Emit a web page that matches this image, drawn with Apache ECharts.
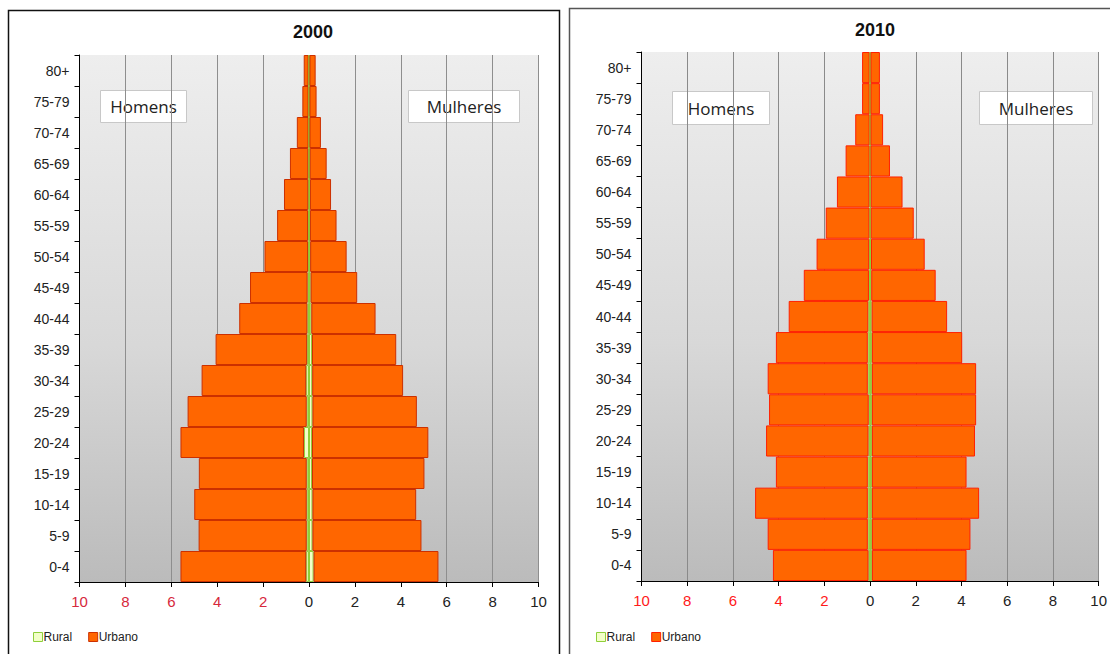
<!DOCTYPE html>
<html>
<head>
<meta charset="utf-8">
<script src="https://cdn.jsdelivr.net/npm/echarts@6/dist/echarts.min.js"></script>
<style>
  html, body { margin: 0; padding: 0; background: #ffffff; }
  #chart { width: 1110px; height: 654px; }
</style>
</head>
<body>
<div id="chart"></div>
<script>
// Age groups, youngest at the bottom of the pyramid
const ageGroups = ['0-4', '5-9', '10-14', '15-19', '20-24', '25-29', '30-34', '35-39',
  '40-44', '45-49', '50-54', '55-59', '60-64', '65-69', '70-74', '75-79', '80+'];

// Share of population (%), census 2000
const ruralMen2000   = [0.12, 0.10, 0.10, 0.10, 0.22, 0.10, 0.12, 0.08, 0.07, 0.06, 0.04, 0.04, 0.03, 0.03, 0.02, 0.02, 0.02];
const urbanMen2000   = [5.48, 4.71, 4.90, 4.70, 5.38, 5.19, 4.56, 3.99, 2.97, 2.51, 1.90, 1.35, 1.06, 0.80, 0.51, 0.27, 0.21];
const ruralWomen2000 = [0.20, 0.15, 0.15, 0.13, 0.13, 0.15, 0.14, 0.13, 0.10, 0.07, 0.05, 0.04, 0.04, 0.03, 0.02, 0.02, 0.02];
const urbanWomen2000 = [5.44, 4.75, 4.52, 4.90, 5.07, 4.55, 3.96, 3.67, 2.80, 2.03, 1.59, 1.16, 0.92, 0.74, 0.50, 0.31, 0.27];

// Share of population (%), census 2010
const ruralMen2010   = [0.07, 0.10, 0.10, 0.10, 0.07, 0.06, 0.10, 0.10, 0.08, 0.05, 0.04, 0.03, 0.03, 0.02, 0.02, 0.02, 0.02];
const urbanMen2010   = [4.18, 4.38, 4.93, 4.02, 4.48, 4.36, 4.38, 4.02, 3.48, 2.85, 2.30, 1.91, 1.42, 1.05, 0.63, 0.33, 0.33];
const ruralWomen2010 = [0.08, 0.08, 0.08, 0.08, 0.08, 0.08, 0.08, 0.08, 0.07, 0.05, 0.04, 0.03, 0.03, 0.02, 0.02, 0.02, 0.02];
const urbanWomen2010 = [4.14, 4.31, 4.69, 4.14, 4.51, 4.56, 4.56, 3.95, 3.30, 2.82, 2.35, 1.88, 1.39, 0.85, 0.55, 0.41, 0.41];

const xTickValues = [-10, -8, -6, -4, -2, 0, 2, 4, 6, 8, 10];
const seriesNames = ['Rural', 'Urbano'];

const FONT = 'Liberation Sans, Arial, sans-serif';
const ruralFill = '#f2ffc8';
const ruralEdge = '#8fcf3a';
const urbanFill = '#ff6600';

const plotBg = {
  type: 'linear', x: 0, y: 0, x2: 0, y2: 1,
  colorStops: [
    { offset: 0, color: '#eeeeee' },
    { offset: 0.55, color: '#d8d8d8' },
    { offset: 1, color: '#bbbbbb' }
  ]
};

function negate(arr) { return arr.map(v => -v); }

function panel(idx, cfg) {
  const grid = {
    left: cfg.left, top: cfg.top, width: cfg.width, height: cfg.height,
    show: true, backgroundColor: plotBg, borderWidth: 0
  };
  const xAxis = {
    gridIndex: idx, type: 'value',
    min: xTickValues[0], max: xTickValues[xTickValues.length - 1], interval: 2,
    axisLine: { show: true, onZero: false, lineStyle: { color: '#000', width: 1 } },
    axisTick: { show: true, length: 5, lineStyle: { color: '#000' } },
    axisLabel: {
      margin: 12, fontSize: 15, fontFamily: FONT,
      formatter: v => String(Math.abs(v)),
      color: v => Number(v) < 0 ? cfg.negColor : '#222'
    },
    splitLine: { show: true, lineStyle: { color: cfg.gridColor, width: 1 } }
  };
  const yAxis = {
    gridIndex: idx, type: 'category', data: ageGroups, boundaryGap: true,
    axisLine: { show: true, onZero: false, lineStyle: { color: '#000', width: 1 } },
    axisTick: { show: true, length: 5, lineStyle: { color: '#000' } },
    axisLabel: { margin: 10, fontSize: 14, fontFamily: FONT, color: '#222' },
    splitLine: { show: false }
  };
  const stack = 'pyr' + idx;
  const ruralStyle = { color: ruralFill, borderColor: ruralEdge, borderWidth: 1 };
  const urbanStyle = { color: urbanFill, borderColor: cfg.urbanEdge, borderWidth: 1 };
  const base = { type: 'bar', xAxisIndex: idx, yAxisIndex: idx, stack: stack,
    barCategoryGap: '0%', barGap: '0%', silent: true };
  const series = [
    Object.assign({}, base, { name: seriesNames[0], data: negate(cfg.ruralMen), itemStyle: ruralStyle }),
    Object.assign({}, base, { name: seriesNames[1], data: negate(cfg.urbanMen), itemStyle: urbanStyle }),
    Object.assign({}, base, { name: seriesNames[0], data: cfg.ruralWomen, itemStyle: ruralStyle }),
    Object.assign({}, base, { name: seriesNames[1], data: cfg.urbanWomen, itemStyle: urbanStyle })
  ];
  const legend = {
    left: cfg.legendLeft, top: 631, padding: 0, itemGap: 16,
    icon: 'rect', itemWidth: 9, itemHeight: 9,
    selectedMode: false,
    textStyle: { fontSize: 12, fontFamily: FONT, color: '#222', padding: [0, 0, 0, -4] },
    data: [
      { name: seriesNames[0], itemStyle: { color: ruralFill, borderColor: ruralEdge, borderWidth: 1 } },
      { name: seriesNames[1], itemStyle: { color: urbanFill, borderColor: cfg.urbanEdge, borderWidth: 1 } }
    ]
  };
  return { grid, xAxis, yAxis, series, legend };
}

const p2000 = panel(0, {
  left: 79.5, top: 55, width: 459, height: 527,
  negColor: '#d6283c', gridColor: '#8e8e8e', urbanEdge: '#cc3000',
  ruralMen: ruralMen2000, urbanMen: urbanMen2000,
  ruralWomen: ruralWomen2000, urbanWomen: urbanWomen2000,
  legendLeft: 33
});
const p2010 = panel(1, {
  left: 641.5, top: 52, width: 458, height: 529,
  negColor: '#ff1a1a', gridColor: '#8a8a8a', urbanEdge: '#ff2000',
  ruralMen: ruralMen2010, urbanMen: urbanMen2010,
  ruralWomen: ruralWomen2010, urbanWomen: urbanWomen2010,
  legendLeft: 596
});

function labelBox(x, y, w, h, text) {
  return {
    type: 'group', x: x, y: y, silent: true,
    children: [
      { type: 'rect', shape: { x: 0, y: 0, width: w, height: h },
        style: { fill: '#ffffff', stroke: '#c8c8c8', lineWidth: 1 } },
      { type: 'text', x: w / 2, y: h / 2,
        style: { text: text, fill: '#222', font: '17px "Open Sans", sans-serif',
          textAlign: 'center', textVerticalAlign: 'middle' } }
    ]
  };
}

const chart = echarts.init(document.getElementById('chart'), null, { renderer: 'svg' });
chart.setOption({
  animation: false,
  backgroundColor: '#ffffff',
  grid: [p2000.grid, p2010.grid],
  xAxis: [p2000.xAxis, p2010.xAxis],
  yAxis: [p2000.yAxis, p2010.yAxis],
  legend: [p2000.legend, p2010.legend],
  series: p2000.series.concat(p2010.series),
  graphic: [
    // panel frames
    { type: 'rect', z: -10, silent: true, shape: { x: 8.5, y: 10.5, width: 551, height: 660 },
      style: { fill: 'none', stroke: '#111', lineWidth: 1.5 } },
    { type: 'rect', z: -10, silent: true, shape: { x: 569.5, y: 8.5, width: 560, height: 660 },
      style: { fill: 'none', stroke: '#555', lineWidth: 1.5 } },
    // panel titles
    { type: 'text', x: 313, y: 32, silent: true,
      style: { text: '2000', fill: '#111', font: 'bold 18px ' + FONT, textAlign: 'center', textVerticalAlign: 'middle' } },
    { type: 'text', x: 875, y: 30, silent: true,
      style: { text: '2010', fill: '#111', font: 'bold 18px ' + FONT, textAlign: 'center', textVerticalAlign: 'middle' } },
    // sex labels
    labelBox(100.5, 90.5, 86, 32, 'Homens'),
    labelBox(408.5, 90.5, 111, 32, 'Mulheres'),
    labelBox(672.5, 91.5, 97, 33, 'Homens'),
    labelBox(979.5, 91.5, 113, 33, 'Mulheres')
  ]
});
</script>
</body>
</html>
